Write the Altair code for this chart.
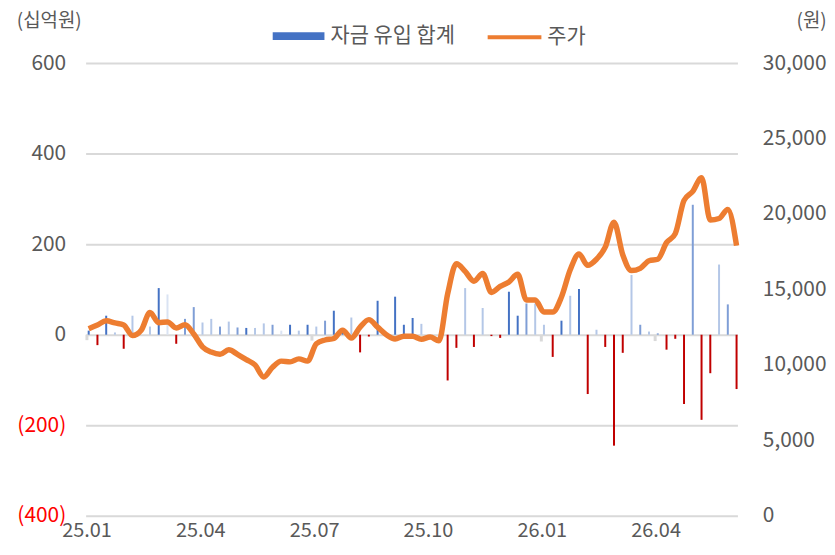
import altair as alt
import pandas as pd

# weekly index (0 = first week of 2025.01)
weeks = list(range(75))

# fund inflow total (KRW bn)
flow = [9, -23, 42, 5, -31, 42, 0, 18, 103, 89,
        -20, 35, 61, 27, 35, 18, 29, 16, 15, 15,
        25, 22, 9, 22, 9, 22, 18, 31, 53, 9,
        38, -39, -4, 75, 0, 84, 22, 37, 24, 0,
        0, -101, -29, 103, -27, 59, -3, -7, 95, 42,
        69, 69, 22, -49, 31, 86, 101, -131, 11, -27,
        -245, -40, 132, 22, 7, 3, -33, -9, -153, 287,
        -188, -85, 155, 67, -120]

# bar shade group: d dark, m mid, l light, v very light, r negative
shade = ["d", "r", "d", "l", "r", "l", "l", "l", "d", "v",
         "r", "m", "m", "l", "l", "m", "l", "m", "d", "l",
         "l", "m", "v", "d", "l", "d", "l", "m", "d", "d",
         "l", "r", "r", "d", "l", "d", "d", "d", "l", "l",
         "l", "r", "r", "l", "r", "l", "r", "r", "d", "d",
         "m", "l", "l", "r", "d", "l", "d", "r", "l", "r",
         "r", "r", "l", "m", "l", "m", "r", "r", "r", "m",
         "r", "r", "l", "m", "r"]

# small grey bars (second series)
grey_idx = [-0.2, 25.5, 51.7, 64.7]
grey_val = [-12, -13, -15, -14]

# share price (KRW)
price = [12400, 12650, 12920, 12780, 12650, 11950, 12300, 13470, 12800, 12850,
         12450, 12660, 12050, 11200, 10850, 10700, 11000, 10700, 10350, 10000,
         9200, 9850, 10250, 10200, 10400, 10250, 11400, 11650, 11750, 12300,
         11780, 12500, 13000, 12500, 12000, 11720, 11900, 11900, 11700, 11850,
         11600, 14700, 16700, 16200, 15550, 16050, 14800, 15200, 15500, 16000,
         14300, 14300, 13500, 13500, 14500, 16300, 17350, 16600, 17000, 17800,
         19450, 17300, 16250, 16400, 16900, 17000, 18100, 18700, 20900, 21500,
         22400, 19600, 19700, 20300, 17900]

tick_pos = [-0.25, 12.75, 25.75, 38.75, 51.75, 64.75]
tick_lab = ["25.01", "25.04", "25.07", "25.10", "26.01", "26.04"]

palette = {"d": "#4472C4", "m": "#7F9ED6", "l": "#B4C7E7", "v": "#DAE3F3", "r": "#C00000"}

FONT = "Noto Sans CJK KR"
GREY = "#595959"

bars_df = pd.DataFrame({"idx": weeks, "flow": flow, "shade": shade})
bars_df["col"] = bars_df["shade"].map(palette)
bars_df["base"] = 0
grey_df = pd.DataFrame({"idx": grey_idx, "flow": grey_val, "base": 0})
price_df = pd.DataFrame({"idx": weeks, "price": price, "series": "주가"})
leg_df = pd.DataFrame({"idx": [0], "v": [0], "series": ["자금 유입 합계"]})

xscale = alt.Scale(domain=[-0.35, 74.1], nice=False, zero=False, padding=0)
label_expr = "{}[indexof({}, datum.value)]".format(
    "[" + ",".join("'%s'" % t for t in tick_lab) + "]",
    "[" + ",".join(str(p) for p in tick_pos) + "]")
xaxis = alt.Axis(values=tick_pos, labelExpr=label_expr, domain=False, ticks=False,
                 grid=False, labelPadding=5, labelFontSize=20, labelFlush=False,
                 labelOverlap=False, title=None)

yl_scale = alt.Scale(domain=[-400, 600], nice=False)
yl_axis = alt.Axis(values=[-400, -200, 0, 200, 400, 600],
                   labelExpr="datum.value < 0 ? '(' + format(-datum.value, ',') + ')' : format(datum.value, ',') + '\u00a0'",
                   labelColor={"condition": {"test": "datum.value < 0", "value": "#FF0000"}, "value": GREY},
                   domain=False, ticks=False, grid=True, gridColor="#D9D9D9", gridWidth=2,
                   labelPadding=20, title="(십억원)", titleAngle=0, titleX=-37, titleY=-52,
                   titleAlign="center", titleBaseline="top")

bars = alt.Chart(bars_df).mark_rule(strokeWidth=2).encode(
    x=alt.X("idx:Q", scale=xscale, axis=xaxis),
    y=alt.Y("flow:Q", scale=yl_scale, axis=yl_axis),
    y2="base:Q",
    color=alt.Color("col:N", scale=None),
)

grey = alt.Chart(grey_df).mark_rule(strokeWidth=3, color="#D9D9D9").encode(
    x="idx:Q", y="flow:Q", y2="base:Q")

dummy = alt.Chart(leg_df).mark_bar().encode(
    x="idx:Q", y="v:Q", y2="v:Q",
    fill=alt.Fill("series:N", scale=alt.Scale(domain=["자금 유입 합계"], range=["#4472C4"]),
                  legend=alt.Legend(orient="none", legendX=187, legendY=-54, title=None,
                                    symbolType="M-1,-0.15H1V0.15H-1Z", symbolSize=2704,
                                    labelOffset=5, padding=0, labelFontSize=21,
                                    labelColor=GREY, labelFont=FONT)),
)

left = alt.layer(bars, grey, dummy)

line = alt.Chart(price_df).mark_line(strokeWidth=5.5, interpolate="monotone").encode(
    x="idx:Q",
    y=alt.Y("price:Q", scale=alt.Scale(domain=[0, 30000], nice=False),
            axis=alt.Axis(orient="right", values=[0, 5000, 10000, 15000, 20000, 25000, 30000],
                          labelExpr="format(datum.value, ',')", domain=False, ticks=False,
                          grid=False, labelPadding=25,
                          title="(원)", titleAngle=0, titleX=74, titleY=-52,
                          titleAlign="center", titleBaseline="top")),
    stroke=alt.Stroke("series:N", scale=alt.Scale(domain=["주가"], range=["#ED7D31"]),
                      legend=alt.Legend(orient="none", legendX=402, legendY=-55, title=None,
                                        symbolType="stroke", symbolSize=2916, symbolStrokeWidth=4,
                                        labelOffset=4, padding=0, labelFontSize=21,
                                        labelColor=GREY, labelFont=FONT)),
)

chart = alt.layer(left, line).resolve_scale(y="independent", fill="independent", stroke="independent").properties(
    width=655, height=455,
    padding={"left": 78, "top": 54, "right": 90, "bottom": 30},
    autosize=alt.AutoSizeParams(type="none"),
).configure_axis(
    labelFont=FONT, labelFontSize=21, labelColor=GREY,
    titleFont=FONT, titleFontSize=19, titleColor=GREY, titleFontWeight="normal",
).configure_view(stroke=None)

chart.save("out.html", embed_options={"renderer": "svg", "actions": False})
